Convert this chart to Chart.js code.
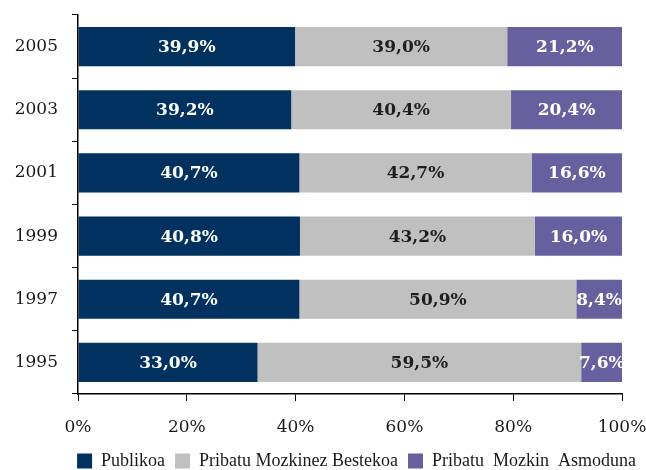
<!DOCTYPE html>
<html>
<head>
<meta charset="utf-8">
<script src="https://cdn.jsdelivr.net/npm/chart.js@4/dist/chart.umd.min.js"></script>
<style>
  html, body { margin: 0; padding: 0; background: #fff; }
  #wrap { width: 646px; height: 470px; }
</style>
</head>
<body>
<div id="wrap"><canvas id="c" width="646" height="470"></canvas></div>
<script>
const years = ['2005', '2003', '2001', '1999', '1997', '1995'];
const publikoa = [39.9, 39.2, 40.7, 40.8, 40.7, 33.0];
const bestekoa = [39.0, 40.4, 42.7, 43.2, 50.9, 59.5];
const asmoduna = [21.2, 20.4, 16.6, 16.0, 8.4, 7.6];
const seriesNames = ['Publikoa', 'Pribatu Mozkinez Bestekoa', 'Pribatu  Mozkin  Asmoduna'];
const xTicks = [0, 20, 40, 60, 80, 100];

const serif = "'DejaVu Serif', 'Liberation Serif', serif";
const times = "'Liberation Serif', serif";

// etiketak barren erdian
const barLabels = {
    id: 'barLabels',
    afterDatasetsDraw(chart) {
        const ctx = chart.ctx;
        ctx.save();
        ctx.font = "bold 17px " + serif;
        ctx.textAlign = 'center';
        ctx.textBaseline = 'middle';
        chart.data.datasets.forEach((ds, i) => {
            chart.getDatasetMeta(i).data.forEach((bar, j) => {
                const v = ds.data[j];
                const txt = v.toFixed(1).replace('.', ',') + '%';
                ctx.fillStyle = ds.labelColor;
                const cx = (bar.x + bar.base) / 2;
                ctx.fillText(txt, cx, bar.y + 1);
            });
        });
        ctx.restore();
    }
};

const ds = (label, data, bg, lc) => ({
    label, data, backgroundColor: bg, labelColor: lc,
    borderWidth: 0, barPercentage: 0.62, categoryPercentage: 1
});

new Chart(document.getElementById('c'), {
    type: 'bar',
    data: {
        labels: years,
        datasets: [
            ds(seriesNames[0], publikoa, '#00315f', '#ffffff'),
            ds(seriesNames[1], bestekoa, '#c0c0c0', '#1e1e1e'),
            ds(seriesNames[2], asmoduna, '#67609e', '#ffffff')
        ]
    },
    options: {
        indexAxis: 'y',
        responsive: false,
        animation: false,
        layout: { padding: { top: 15, right: 0, left: 0, bottom: -10 } },
        scales: {
            x: {
                stacked: true, min: 0, max: 100,
                afterBuildTicks: s => { s.ticks = xTicks.map(v => ({ value: v })); },
                afterFit: s => { s.height = 48; s.paddingLeft = 0; s.paddingRight = 24; },
                grid: { drawOnChartArea: false, drawTicks: true, tickLength: 7, color: '#000' },
                border: { color: '#000', width: 1.5 },
                ticks: { callback: v => v + '%', color: '#1a1a1a', padding: 16, font: { family: serif, size: 17 } }
            },
            y: {
                stacked: true,
                afterFit: s => { s.width = 78; s.paddingTop = 0; s.paddingBottom = 0; },
                grid: { drawOnChartArea: false, offset: true, tickLength: 6, color: '#000' },
                border: { color: '#000', width: 1.5 },
                ticks: { color: '#1a1a1a', padding: 14, font: { family: serif, size: 17 } }
            }
        },
        plugins: {
            tooltip: { enabled: false },
            legend: {
                position: 'bottom',
                align: 'end',
                labels: {
                    boxWidth: 15, boxHeight: 15, padding: 10,
                    color: '#1a1a1a', font: { family: times, size: 18 }
                }
            }
        }
    },
    plugins: [barLabels]
});
</script>
</body>
</html>
